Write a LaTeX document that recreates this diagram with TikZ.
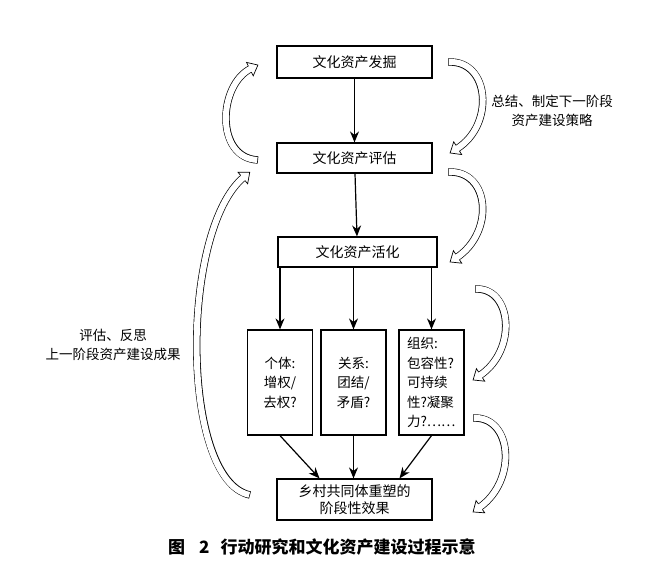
\documentclass[tikz,border=0pt]{standalone}
\usepackage{fontspec}
\setmainfont{Noto Sans CJK SC}
\usetikzlibrary{arrows.meta, decorations.markings}

\tikzset{
    box/.style = {draw, line width=1.2pt, inner sep=0pt, align=center, font=\fontsize{14}{17}\selectfont},
    part/.style = {box, minimum width=65pt, minimum height=105pt, font=\fontsize{13.5}{19.5}\selectfont},
    note/.style = {align=center, inner sep=0pt, font=\fontsize{13.5}{19}\selectfont},
    flow/.style = {line width=1.2pt, -{Stealth[length=11pt, width=9pt]}},
    head/.style = {postaction={decorate, decoration={markings, mark=at position 0.999 with {
        \filldraw[fill=white, line width=0.7pt] (-9pt,3.35pt) -- (-9pt,7.5pt) -- (0pt,0pt) -- (-9pt,-7.5pt) -- (-9pt,-3.35pt);}}}}
}
% hohler Bogenpfeil: schwarzes Band, innen weiss, dann die Spitze
\newcommand{\hollowarrow}[1]{
    \draw[line width=7.4pt, shorten >=8pt] #1;
    \draw[white, line width=6pt, shorten >=8pt, shorten <=0.7pt] #1;
    \path[head] #1;
}

\begin{document}
\begin{tikzpicture}[x=1pt, y=-1pt]
    \useasboundingbox (0,0) rectangle (669,571);

    \node[box, minimum width=155pt, minimum height=32pt] (dig) at (354.5,62) {文化资产发掘};
    \node[box, minimum width=155pt, minimum height=30pt] (eval) at (354.5,158) {文化资产评估};
    \node[box, minimum width=159pt, minimum height=30pt] (act) at (357.5,252) {文化资产活化};

    \node[part] (ind) at (280,382.5) {个体:\\增权/\\去权?};
    \node[part] (rel) at (353.5,382.5) {关系:\\团结/\\矛盾?};
    \node[part, align=left, text width=49pt] (org) at (431.5,382.5) {组织:\\包容性?\\可持续\\性?凝聚\\力?……};

    \node[box, minimum width=155pt, minimum height=41pt] (res) at (354.5,499.5) {乡村共同体重塑的\\阶段性效果};

    \draw[flow] (dig) -- (eval);
    \draw[flow] (eval) -- (act);
    \foreach \p in {ind, rel, org} \draw[flow] (act.south -| \p.north) -- (\p.north);
    \draw[flow] (ind.south) -- ([xshift=-35pt]res.north);
    \draw[flow] (rel.south) -- (rel.south |- res.north);
    \draw[flow] (org.south) -- ([xshift=45pt]res.north);

    % Kreislauf links
    \hollowarrow{(258,160) .. controls (215,158) and (218,85) .. (258,65)}
    \hollowarrow{(250,495) .. controls (180,480) and (180,230) .. (250,172)}
    % rechts von oben nach unten
    \hollowarrow{(448,62) .. controls (490,60) and (495,125) .. (450,153)}
    \hollowarrow{(448,172) .. controls (490,170) and (495,232) .. (450,262)}
    \hollowarrow{(475,289) .. controls (512,287) and (518,350) .. (473,380)}
    \hollowarrow{(473,418) .. controls (512,416) and (518,480) .. (473,512)}

    \node[note] (plan) at (552,111) {总结、制定下一阶段\\资产建设策略};
    \node[note] (look) at (113,345) {评估、反思\\上一阶段资产建设成果};

    \node[anchor=west, inner sep=0pt, font=\fontsize{17}{17}\selectfont\bfseries] (cap) at (168,547)
        {图\hspace{14pt}2\hspace{11pt}行动研究和文化资产建设过程示意};
\end{tikzpicture}
\end{document}
